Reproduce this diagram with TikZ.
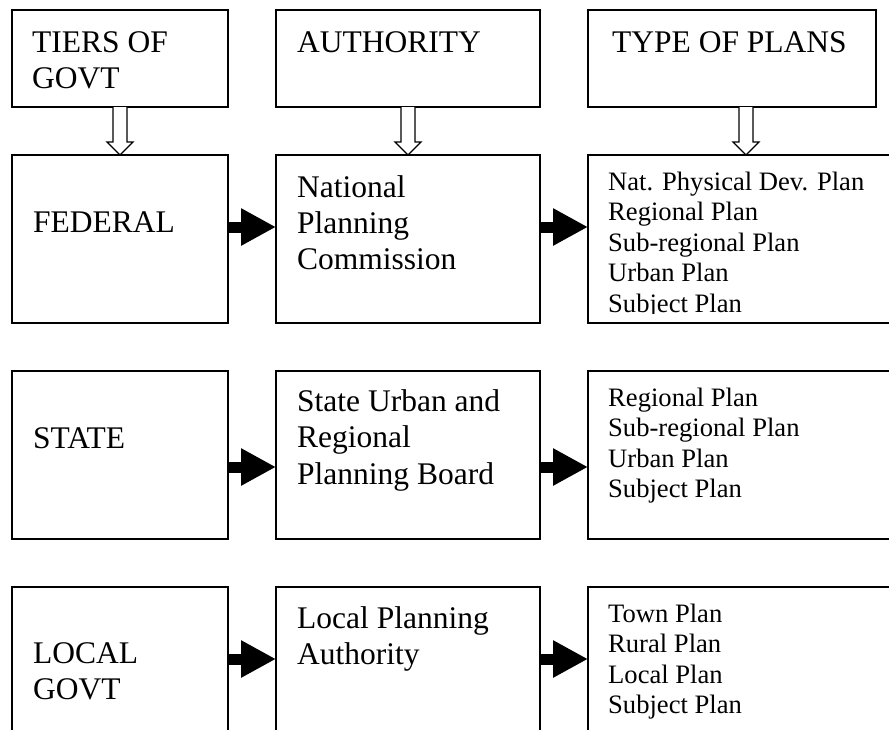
\documentclass[tikz,border=0pt]{standalone}
\usepackage{fontspec}
\setmainfont{Liberation Serif}
\usetikzlibrary{arrows.meta,calc}
\begin{document}
\begin{tikzpicture}[x=1pt,y=-1pt,
  box/.style={draw, line width=1.3pt, inner sep=0pt, outer sep=0pt},
  big/.style={font=\fontsize{31.5}{36}\selectfont, anchor=base west, inner sep=0pt},
  small/.style={font=\fontsize{26.6}{30.5}\selectfont, anchor=base west, inner sep=0pt},
  hollow/.style={draw, line width=1.1pt, fill=white, line join=miter},
  blk/.style={line width=11pt, -{Triangle[length=35pt,width=35pt]}}]
\useasboundingbox (0,0) rectangle (889,729);
\clip (0,0) rectangle (889,729);
% header boxes
\node[box, minimum width=216pt, minimum height=97pt] (tiers) at (120,58.5) {};
\node[box, minimum width=264pt, minimum height=97pt] (auth) at (408,58.5) {};
\node[box, minimum width=288pt, minimum height=97pt] (types) at (732,58.5) {};
% row 1
\node[box, minimum width=216pt, minimum height=168pt] (fed) at (120,239) {};
\node[box, minimum width=264pt, minimum height=168pt] (npc) at (408,239) {};
\node[box, minimum width=307pt, minimum height=168pt] (fplans) at (741.5,239) {};
% row 2
\node[box, minimum width=216pt, minimum height=168pt] (state) at (120,455) {};
\node[box, minimum width=264pt, minimum height=168pt] (surpb) at (408,455) {};
\node[box, minimum width=307pt, minimum height=168pt] (splans) at (741.5,455) {};
% row 3 (cut by the lower edge)
\node[box, minimum width=216pt, minimum height=153pt] (local) at (120,663.5) {};
\node[box, minimum width=264pt, minimum height=153pt] (lpa) at (408,663.5) {};
\node[box, minimum width=307pt, minimum height=153pt] (lplans) at (741.5,663.5) {};

% header texts
\node[big] (h1a) at (32,52) {TIERS OF};
\node[big] (h1b) at (32,88) {GOVT};
\node[big] (h2) at (297,52) {AUTHORITY};
\node[big] (h3) at (612,52) {TYPE OF PLANS};

% row 1 texts
\node[big] (r1a) at (33,232) {FEDERAL};
\node[big] (r1b1) at (297,197) {National};
\node[big] (r1b2) at (297,233) {Planning};
\node[big] (r1b3) at (297,269) {Commission};
\begin{scope}
\clip (588,155) rectangle (895,313.5);
\node[small] (r1c1) at (608,190) {Nat. Physical Dev. Plan};
\node[small] (r1c2) at (608,220.5) {Regional Plan};
\node[small] (r1c3) at (608,251) {Sub-regional Plan};
\node[small] (r1c4) at (608,281.5) {Urban Plan};
\node[small] (r1c5) at (608,312) {Subject Plan};
\end{scope}

% row 2 texts
\node[big] (r2a) at (33,448) {STATE};
\node[big] (r2b1) at (297,411) {State Urban and};
\node[big] (r2b2) at (297,447.5) {Regional};
\node[big] (r2b3) at (297,484) {Planning Board};
\node[small] (r2c1) at (608,406) {Regional Plan};
\node[small] (r2c2) at (608,436.5) {Sub-regional Plan};
\node[small] (r2c3) at (608,467) {Urban Plan};
\node[small] (r2c4) at (608,497.5) {Subject Plan};

% row 3 texts
\node[big] (r3a1) at (33,663) {LOCAL};
\node[big] (r3a2) at (33,699) {GOVT};
\node[big] (r3b1) at (297,628) {Local Planning};
\node[big] (r3b2) at (297,664) {Authority};
\node[small] (r3c1) at (608,622) {Town Plan};
\node[small] (r3c2) at (608,652.5) {Rural Plan};
\node[small] (r3c3) at (608,683) {Local Plan};
\node[small] (r3c4) at (608,713.5) {Subject Plan};

% hollow down arrows
\draw[hollow] ($(tiers.south)+(-7,0)$) -- ++(0,35) -- ++(-6,0) -- (fed.north)
  -- ++(13,-13) -- ++(-6,0) -- ($(tiers.south)+(7,0)$);
\draw[hollow] ($(auth.south)+(-7,0)$) -- ++(0,35) -- ++(-6,0) -- (npc.north)
  -- ++(13,-13) -- ++(-6,0) -- ($(auth.south)+(7,0)$);
\draw[hollow] ($(types.south)+(14-7,0)$) -- ++(0,35) -- ++(-6,0) -- ($(fplans.north)+(4.5,0)$)
  -- ++(13,-13) -- ++(-6,0) -- ($(types.south)+(14+7,0)$);

% black arrows
\draw[blk] ($(fed.north east)+(0,72)$) -- ($(npc.north west)+(0,72)$);
\draw[blk] ($(npc.north east)+(0,72)$) -- ($(fplans.north west)+(0,72)$);
\draw[blk] ($(state.north east)+(0,96)$) -- ($(surpb.north west)+(0,96)$);
\draw[blk] ($(surpb.north east)+(0,96)$) -- ($(splans.north west)+(0,96)$);
\draw[blk] ($(local.north east)+(0,72)$) -- ($(lpa.north west)+(0,72)$);
\draw[blk] ($(lpa.north east)+(0,72)$) -- ($(lplans.north west)+(0,72)$);
\end{tikzpicture}
\end{document}
